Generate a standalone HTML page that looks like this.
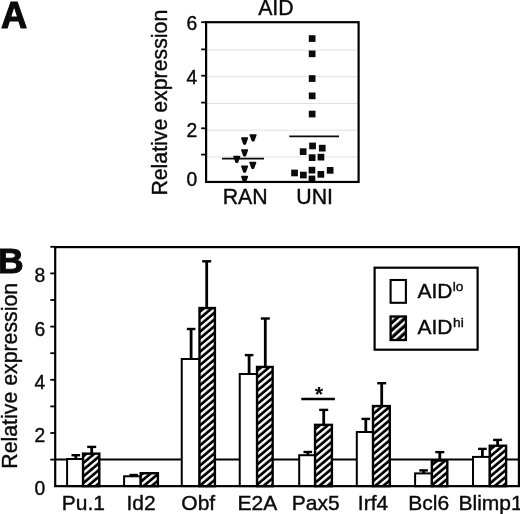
<!DOCTYPE html>
<html><head><meta charset="utf-8"><title>Figure</title>
<style>
html,body{margin:0;padding:0;background:#fff;}
svg{display:block;font-family:"Liberation Sans", sans-serif;fill:#0a0a0a;filter:blur(0.35px);}
text{stroke:#0a0a0a;stroke-width:0.4px;}
</style></head><body>
<svg width="520" height="514" viewBox="0 0 520 514">
<rect width="520" height="514" fill="#fff" stroke="none"/>
<line x1="206.1" x2="358.6" y1="156.9" y2="156.9" stroke="#e2e2e2" stroke-width="1"/>
<line x1="206.1" x2="358.6" y1="130.2" y2="130.2" stroke="#e2e2e2" stroke-width="1"/>
<line x1="206.1" x2="358.6" y1="103.5" y2="103.5" stroke="#e2e2e2" stroke-width="1"/>
<line x1="206.1" x2="358.6" y1="76.8" y2="76.8" stroke="#e2e2e2" stroke-width="1"/>
<line x1="206.1" x2="358.6" y1="50.1" y2="50.1" stroke="#e2e2e2" stroke-width="1"/>
<path d="M241.8 138.1H247.4L245.3 143.9H243.9Z" fill="#0a0a0a" stroke="#0a0a0a" stroke-width="1.5" stroke-linejoin="round"/>
<path d="M250.3 135.0H255.9L253.8 140.8H252.4Z" fill="#0a0a0a" stroke="#0a0a0a" stroke-width="1.5" stroke-linejoin="round"/>
<path d="M241.8 149.9H247.4L245.3 155.7H243.9Z" fill="#0a0a0a" stroke="#0a0a0a" stroke-width="1.5" stroke-linejoin="round"/>
<path d="M234.0 156.5H239.6L237.5 162.3H236.1Z" fill="#0a0a0a" stroke="#0a0a0a" stroke-width="1.5" stroke-linejoin="round"/>
<path d="M250.0 162.4H255.6L253.5 168.2H252.1Z" fill="#0a0a0a" stroke="#0a0a0a" stroke-width="1.5" stroke-linejoin="round"/>
<path d="M241.8 166.3H247.4L245.3 172.1H243.9Z" fill="#0a0a0a" stroke="#0a0a0a" stroke-width="1.5" stroke-linejoin="round"/>
<path d="M241.8 176.5H247.4L245.3 182.3H243.9Z" fill="#0a0a0a" stroke="#0a0a0a" stroke-width="1.5" stroke-linejoin="round"/>
<rect x="308.8" y="35.2" width="6.7" height="6.7" fill="#0a0a0a"/>
<rect x="308.8" y="50.5" width="6.7" height="6.7" fill="#0a0a0a"/>
<rect x="308.8" y="75.2" width="6.7" height="6.7" fill="#0a0a0a"/>
<rect x="308.8" y="92.5" width="6.7" height="6.7" fill="#0a0a0a"/>
<rect x="308.8" y="110.7" width="6.7" height="6.7" fill="#0a0a0a"/>
<rect x="309.2" y="142.6" width="6.7" height="6.7" fill="#0a0a0a"/>
<rect x="318.9" y="144.8" width="6.7" height="6.7" fill="#0a0a0a"/>
<rect x="299.8" y="148.3" width="6.7" height="6.7" fill="#0a0a0a"/>
<rect x="308.8" y="154.3" width="6.7" height="6.7" fill="#0a0a0a"/>
<rect x="317.6" y="153.8" width="6.7" height="6.7" fill="#0a0a0a"/>
<rect x="291.2" y="169.6" width="6.7" height="6.7" fill="#0a0a0a"/>
<rect x="300.0" y="171.7" width="6.7" height="6.7" fill="#0a0a0a"/>
<rect x="308.6" y="166.8" width="6.7" height="6.7" fill="#0a0a0a"/>
<rect x="317.5" y="171.0" width="6.7" height="6.7" fill="#0a0a0a"/>
<rect x="326.8" y="167.0" width="6.7" height="6.7" fill="#0a0a0a"/>
<rect x="308.6" y="175.6" width="6.7" height="6.7" fill="#0a0a0a"/>
<line x1="222" x2="264" y1="158.6" y2="158.6" stroke="#0a0a0a" stroke-width="1.9"/>
<line x1="289.3" x2="339" y1="136.4" y2="136.4" stroke="#0a0a0a" stroke-width="1.9"/>
<rect x="206.1" y="22.2" width="152.50000000000003" height="159.75" fill="none" stroke="#000" stroke-width="2.2"/>
<line x1="201.2" x2="206.1" y1="154.6" y2="154.6" stroke="#000" stroke-width="1.8"/>
<line x1="201.2" x2="206.1" y1="128.3" y2="128.3" stroke="#000" stroke-width="1.8"/>
<line x1="201.2" x2="206.1" y1="102.6" y2="102.6" stroke="#000" stroke-width="1.8"/>
<line x1="201.2" x2="206.1" y1="75.7" y2="75.7" stroke="#000" stroke-width="1.8"/>
<line x1="201.2" x2="206.1" y1="49.4" y2="49.4" stroke="#000" stroke-width="1.8"/>
<line x1="201.2" x2="206.1" y1="22.2" y2="22.2" stroke="#000" stroke-width="1.8"/>
<text x="197.2" y="185.65" font-size="19.3" text-anchor="end">0</text>
<text x="197.2" y="136.95" font-size="19.3" text-anchor="end">2</text>
<text x="197.2" y="83.85" font-size="19.3" text-anchor="end">4</text>
<text x="197.2" y="29.60" font-size="19.3" text-anchor="end">6</text>
<text x="275.9" y="14.9" font-size="21.3" text-anchor="middle">AID</text>
<text x="245.2" y="203.6" font-size="21.3" text-anchor="middle">RAN</text>
<text x="314.6" y="203.6" font-size="21.3" text-anchor="middle">UNI</text>
<text transform="translate(167.4,102.7) rotate(-90)" font-size="21.3" text-anchor="middle">Relative expression</text>
<text x="1.0" y="27.9" font-size="36.3" font-weight="bold" style="stroke-width:1.1px;stroke-linejoin:round">A</text>
<defs><pattern id="h" width="5.13" height="5.13" patternUnits="userSpaceOnUse" patternTransform="translate(0,5.6) rotate(-40)">
<rect width="5.13" height="5.13" fill="#000"/><rect y="0" width="5.13" height="2.4" fill="#fff"/></pattern>
<pattern id="h2" width="5.5" height="5.5" patternUnits="userSpaceOnUse" patternTransform="translate(0,4.1) rotate(-42)">
<rect width="5.5" height="5.5" fill="#000"/><rect y="0" width="5.5" height="2.3" fill="#fff"/></pattern></defs>
<line x1="55.2" x2="518.9" y1="459.5" y2="459.5" stroke="#000" stroke-width="2.1"/>
<path d="M75.8 459.0V455.2" stroke="#000" stroke-width="2.8" fill="none"/><path d="M71.5 455.2H80.1" stroke="#000" stroke-width="2.4" fill="none"/>
<path d="M91.7 453.5V446.9" stroke="#000" stroke-width="2.8" fill="none"/><path d="M87.2 446.9H96.2" stroke="#000" stroke-width="2.4" fill="none"/>
<rect x="67.10" y="459.0" width="15.95" height="27.1" fill="#fff" stroke="#000" stroke-width="2"/>
<rect x="83.05" y="453.65" width="16.25" height="32.50" fill="url(#h)" stroke="#000" stroke-width="2.4"/>
<path d="M133.7 476.3V475.0" stroke="#000" stroke-width="2.8" fill="none"/><path d="M129.4 475.0H138.0" stroke="#000" stroke-width="2.4" fill="none"/>
<rect x="124.10" y="476.3" width="16.60" height="9.8" fill="#fff" stroke="#000" stroke-width="2"/>
<rect x="140.70" y="473.25" width="17.20" height="12.90" fill="url(#h)" stroke="#000" stroke-width="2.4"/>
<path d="M191.1 359.0V329.0" stroke="#000" stroke-width="2.8" fill="none"/><path d="M186.8 329.0H195.4" stroke="#000" stroke-width="2.4" fill="none"/>
<path d="M206.7 307.9V261.3" stroke="#000" stroke-width="2.8" fill="none"/><path d="M202.2 261.3H211.2" stroke="#000" stroke-width="2.4" fill="none"/>
<rect x="181.75" y="359.0" width="17.75" height="127.1" fill="#fff" stroke="#000" stroke-width="2"/>
<rect x="199.50" y="308.05" width="15.40" height="178.10" fill="url(#h)" stroke="#000" stroke-width="2.4"/>
<path d="M249.1 374.0V355.1" stroke="#000" stroke-width="2.8" fill="none"/><path d="M244.8 355.1H253.4" stroke="#000" stroke-width="2.4" fill="none"/>
<path d="M265.3 366.8V318.5" stroke="#000" stroke-width="2.8" fill="none"/><path d="M260.8 318.5H269.8" stroke="#000" stroke-width="2.4" fill="none"/>
<rect x="239.75" y="374.0" width="17.30" height="112.1" fill="#fff" stroke="#000" stroke-width="2"/>
<rect x="257.05" y="366.95" width="15.60" height="119.20" fill="url(#h)" stroke="#000" stroke-width="2.4"/>
<path d="M307.8 455.2V452.0" stroke="#000" stroke-width="2.8" fill="none"/><path d="M303.5 452.0H312.1" stroke="#000" stroke-width="2.4" fill="none"/>
<path d="M323.7 424.7V409.9" stroke="#000" stroke-width="2.8" fill="none"/><path d="M319.2 409.9H328.2" stroke="#000" stroke-width="2.4" fill="none"/>
<rect x="299.20" y="455.2" width="15.85" height="30.9" fill="#fff" stroke="#000" stroke-width="2"/>
<rect x="315.05" y="424.85" width="16.85" height="61.30" fill="url(#h)" stroke="#000" stroke-width="2.4"/>
<path d="M365.8 432.0V418.9" stroke="#000" stroke-width="2.8" fill="none"/><path d="M361.5 418.9H370.1" stroke="#000" stroke-width="2.4" fill="none"/>
<path d="M381.7 405.9V383.2" stroke="#000" stroke-width="2.8" fill="none"/><path d="M377.2 383.2H386.2" stroke="#000" stroke-width="2.4" fill="none"/>
<rect x="356.80" y="432.0" width="16.20" height="54.1" fill="#fff" stroke="#000" stroke-width="2"/>
<rect x="373.00" y="406.05" width="16.80" height="80.10" fill="url(#h)" stroke="#000" stroke-width="2.4"/>
<path d="M423.6 473.4V470.4" stroke="#000" stroke-width="2.8" fill="none"/><path d="M419.3 470.4H427.9" stroke="#000" stroke-width="2.4" fill="none"/>
<path d="M439.8 460.4V452.1" stroke="#000" stroke-width="2.8" fill="none"/><path d="M435.3 452.1H444.3" stroke="#000" stroke-width="2.4" fill="none"/>
<rect x="415.10" y="473.4" width="16.75" height="12.8" fill="#fff" stroke="#000" stroke-width="2"/>
<rect x="431.85" y="460.55" width="15.45" height="25.60" fill="url(#h)" stroke="#000" stroke-width="2.4"/>
<path d="M482.4 456.9V448.9" stroke="#000" stroke-width="2.8" fill="none"/><path d="M478.1 448.9H486.7" stroke="#000" stroke-width="2.4" fill="none"/>
<path d="M497.6 445.6V439.9" stroke="#000" stroke-width="2.8" fill="none"/><path d="M493.1 439.9H502.1" stroke="#000" stroke-width="2.4" fill="none"/>
<rect x="473.00" y="456.9" width="16.75" height="29.2" fill="#fff" stroke="#000" stroke-width="2"/>
<rect x="489.75" y="445.75" width="16.35" height="40.40" fill="url(#h)" stroke="#000" stroke-width="2.4"/>
<rect x="55.2" y="247.1" width="463.7" height="239.04999999999998" fill="none" stroke="#000" stroke-width="2.2"/>
<line x1="50.300000000000004" x2="55.2" y1="459.6" y2="459.6" stroke="#000" stroke-width="1.8"/>
<line x1="50.300000000000004" x2="55.2" y1="433.0" y2="433.0" stroke="#000" stroke-width="1.8"/>
<line x1="50.300000000000004" x2="55.2" y1="406.4" y2="406.4" stroke="#000" stroke-width="1.8"/>
<line x1="50.300000000000004" x2="55.2" y1="379.8" y2="379.8" stroke="#000" stroke-width="1.8"/>
<line x1="50.300000000000004" x2="55.2" y1="353.2" y2="353.2" stroke="#000" stroke-width="1.8"/>
<line x1="50.300000000000004" x2="55.2" y1="326.6" y2="326.6" stroke="#000" stroke-width="1.8"/>
<line x1="50.300000000000004" x2="55.2" y1="300.0" y2="300.0" stroke="#000" stroke-width="1.8"/>
<line x1="50.300000000000004" x2="55.2" y1="273.4" y2="273.4" stroke="#000" stroke-width="1.8"/>
<line x1="50.300000000000004" x2="55.2" y1="246.8" y2="246.8" stroke="#000" stroke-width="1.8"/>
<text x="45.2" y="495.1" font-size="19.3" text-anchor="end">0</text>
<text x="45.2" y="441.9" font-size="19.3" text-anchor="end">2</text>
<text x="45.2" y="388.7" font-size="19.3" text-anchor="end">4</text>
<text x="45.2" y="335.5" font-size="19.3" text-anchor="end">6</text>
<text x="45.2" y="282.3" font-size="19.3" text-anchor="end">8</text>
<text x="83.4" y="509.9" font-size="21" text-anchor="middle">Pu.1</text>
<text x="141.1" y="509.9" font-size="21" text-anchor="middle">Id2</text>
<text x="198.3" y="509.9" font-size="21" text-anchor="middle">Obf</text>
<text x="257.4" y="509.9" font-size="21" text-anchor="middle">E2A</text>
<text x="315.7" y="509.9" font-size="21" text-anchor="middle">Pax5</text>
<text x="373.0" y="509.9" font-size="21" text-anchor="middle">Irf4</text>
<text x="428.7" y="509.9" font-size="21" text-anchor="middle">Bcl6</text>
<text x="490.6" y="509.9" font-size="21" text-anchor="middle">Blimp1</text>
<text transform="translate(16.7,375.8) rotate(-90)" font-size="21.3" text-anchor="middle">Relative expression</text>
<text x="-2.2" y="272.5" font-size="35.8" font-weight="bold" style="stroke-width:1.1px;stroke-linejoin:round">B</text>
<line x1="301.3" x2="334.9" y1="399" y2="399" stroke="#000" stroke-width="2.3"/>
<text x="319.0" y="400.6" font-size="20.5" font-weight="bold" text-anchor="middle" style="stroke-width:0.2px">*</text>
<rect x="374.6" y="267.7" width="103" height="82" fill="#fff" stroke="#000" stroke-width="2.2"/>
<rect x="390.6" y="280" width="15.3" height="22.8" fill="#fff" stroke="#000" stroke-width="2.1"/>
<rect x="390.6" y="316.5" width="15.3" height="23.5" fill="url(#h2)" stroke="#000" stroke-width="2.3"/>
<text x="417.5" y="298.3" font-size="21">AID<tspan font-size="13.7" dy="-7.3" dx="0.3">lo</tspan></text>
<text x="417.5" y="334.3" font-size="21">AID<tspan font-size="13.7" dy="-7.3" dx="0.5">hi</tspan></text>
</svg>
</body></html>
